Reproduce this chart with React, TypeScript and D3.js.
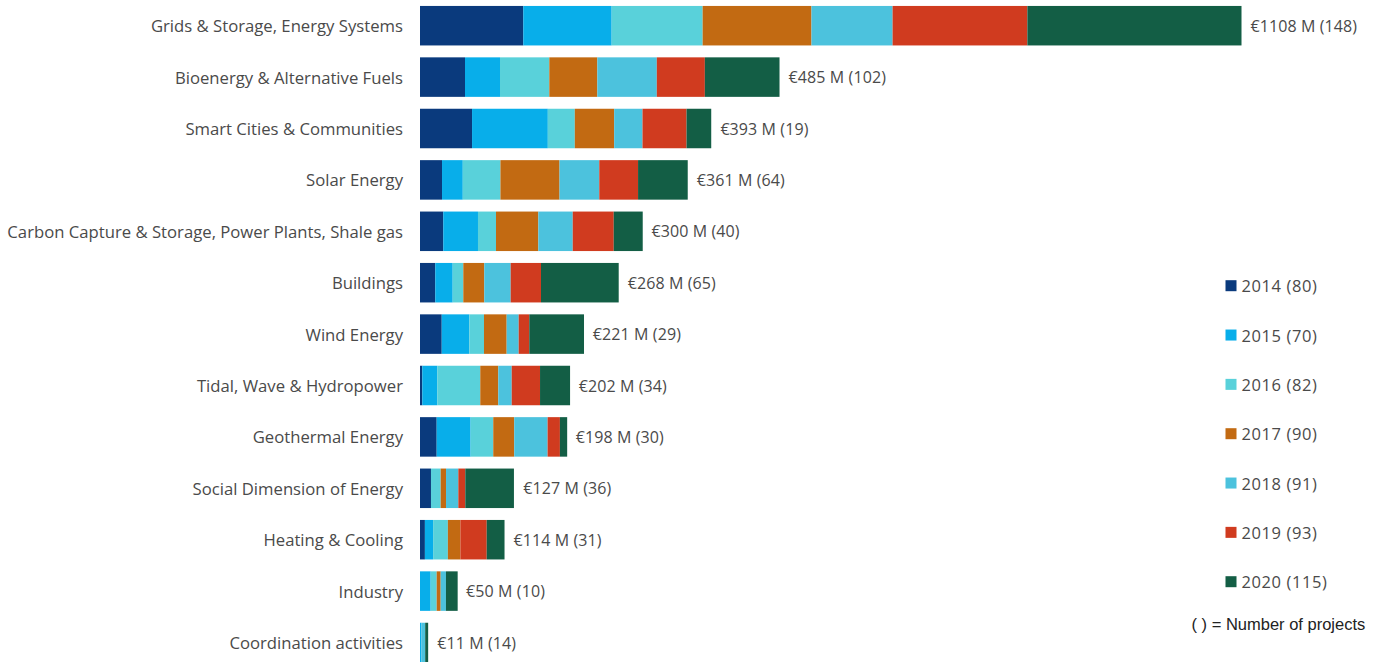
import React from "react";
import * as d3 from "d3";

const categories = [
  "Grids & Storage, Energy Systems",
  "Bioenergy & Alternative Fuels",
  "Smart Cities & Communities",
  "Solar Energy",
  "Carbon Capture & Storage, Power Plants, Shale gas",
  "Buildings",
  "Wind Energy",
  "Tidal, Wave & Hydropower",
  "Geothermal Energy",
  "Social Dimension of Energy",
  "Heating & Cooling",
  "Industry",
  "Coordination activities",
];

const years = ["2014", "2015", "2016", "2017", "2018", "2019", "2020"];
const yearProjects = [80, 70, 82, 90, 91, 93, 115];
const yearColors = ["#0a3a7d", "#08aeea", "#59d1da", "#c26a12", "#4cc2dd", "#d03b1f", "#135e45"];

// M€ per category, one array per year
const v2014 = [139.3, 60.7, 70.2, 29.7, 31.4, 20.6, 29.3, 3.1, 22.5, 14.8, 6.6, 0, 0];
const v2015 = [119.2, 47.2, 102.2, 28.0, 46.8, 23.5, 37.2, 20.2, 45.8, 0, 11.1, 14.4, 2];
const v2016 = [122.7, 66.5, 36.4, 50.8, 24.3, 14.3, 19.8, 58.0, 30.5, 13.1, 19.9, 8.1, 0];
const v2017 = [146.8, 64.8, 53.1, 79.7, 57.1, 28.3, 30.6, 24.3, 28.3, 7.2, 16.9, 5.4, 0];
const v2018 = [109.4, 80.2, 38.2, 53.6, 46.4, 35.6, 16.2, 18.1, 45.0, 16.6, 0, 7.1, 5];
const v2019 = [181.8, 64.8, 59.4, 52.3, 55.3, 40.9, 14.3, 38.2, 16.6, 9.4, 35.5, 0, 0];
const v2020 = [288.8, 100.7, 33.3, 67.0, 39.1, 104.8, 73.8, 40.5, 9.8, 65.6, 24.0, 15.8, 4];

const totals = [1108, 485, 393, 361, 300, 268, 221, 202, 198, 127, 114, 50, 11];
const projectCounts = [148, 102, 19, 64, 40, 65, 29, 34, 30, 36, 31, 10, 14];

const seriesValues = [v2014, v2015, v2016, v2017, v2018, v2019, v2020];

export default function App() {
  const width = 1381;
  const height = 662;

  const rows = categories.map((c, i) => {
    const r: Record<string, any> = { category: c };
    years.forEach((y, j) => (r[y] = seriesValues[j][i]));
    return r;
  });

  const stack = d3.stack<any>().keys(years);
  const stacked = stack(rows);

  const x = d3.scaleLinear().domain([0, 1108]).range([420, 1241.5]);
  const step = 51.4;
  const y = d3
    .scaleBand<string>()
    .domain(categories)
    .range([0, step * categories.length])
    .paddingInner(0.2315)
    .paddingOuter(0.2315 / 2);
  const bw = y.bandwidth();

  const legendY = d3.scaleLinear().domain([0, 6]).range([285.7, 581.7]);

  const labelFont = "'Open Sans', 'DejaVu Sans', sans-serif";

  return (
    <div style={{ position: "absolute", left: 0, top: 0 }}>
      <svg width={width} height={height} style={{ display: "block", background: "#fff" }}>
        {stacked.map((s, j) => (
          <g key={years[j]} fill={yearColors[j]}>
            {s.map((d, i) => {
              const w = x(d[1]) - x(d[0]);
              if (w <= 0) return null;
              return (
                <rect
                  key={i}
                  x={x(d[0])}
                  y={y(categories[i])}
                  width={w}
                  height={bw}
                />
              );
            })}
          </g>
        ))}
        {categories.map((c, i) => (
          <text
            key={"l" + i}
            x={403}
            y={(y(c) as number) + bw / 2}
            textAnchor="end"
            dominantBaseline="central"
            fontFamily={labelFont}
            fontSize={16.7}
            fill="#4a4a4a"
          >
            {c}
          </text>
        ))}
        {categories.map((c, i) => (
          <text
            key={"v" + i}
            x={x(totals[i]) + 9}
            y={(y(c) as number) + bw / 2}
            dominantBaseline="central"
            fontFamily={labelFont}
            fontSize={16}
            letterSpacing={0.1}
            fill="#4a4a4a"
          >
            {`€${totals[i]} M (${projectCounts[i]})`}
          </text>
        ))}
        {years.map((yr, j) => (
          <g key={"lg" + yr}>
            <rect x={1225.5} y={legendY(j) - 5.5} width={11} height={11} fill={yearColors[j]} />
            <text
              x={1241.5}
              y={legendY(j)}
              dominantBaseline="central"
              fontFamily={labelFont}
              fontSize={16.5}
              letterSpacing={0.6}
              fill="#4a4a4a"
            >
              {`${yr} (${yearProjects[j]})`}
            </text>
          </g>
        ))}
        <text
          x={1191.5}
          y={623.5}
          dominantBaseline="central"
          fontFamily="'Liberation Sans', Arial, sans-serif"
          fontSize={16.5}
          fill="#222"
        >
          ( ) = Number of projects
        </text>
      </svg>
    </div>
  );
}
